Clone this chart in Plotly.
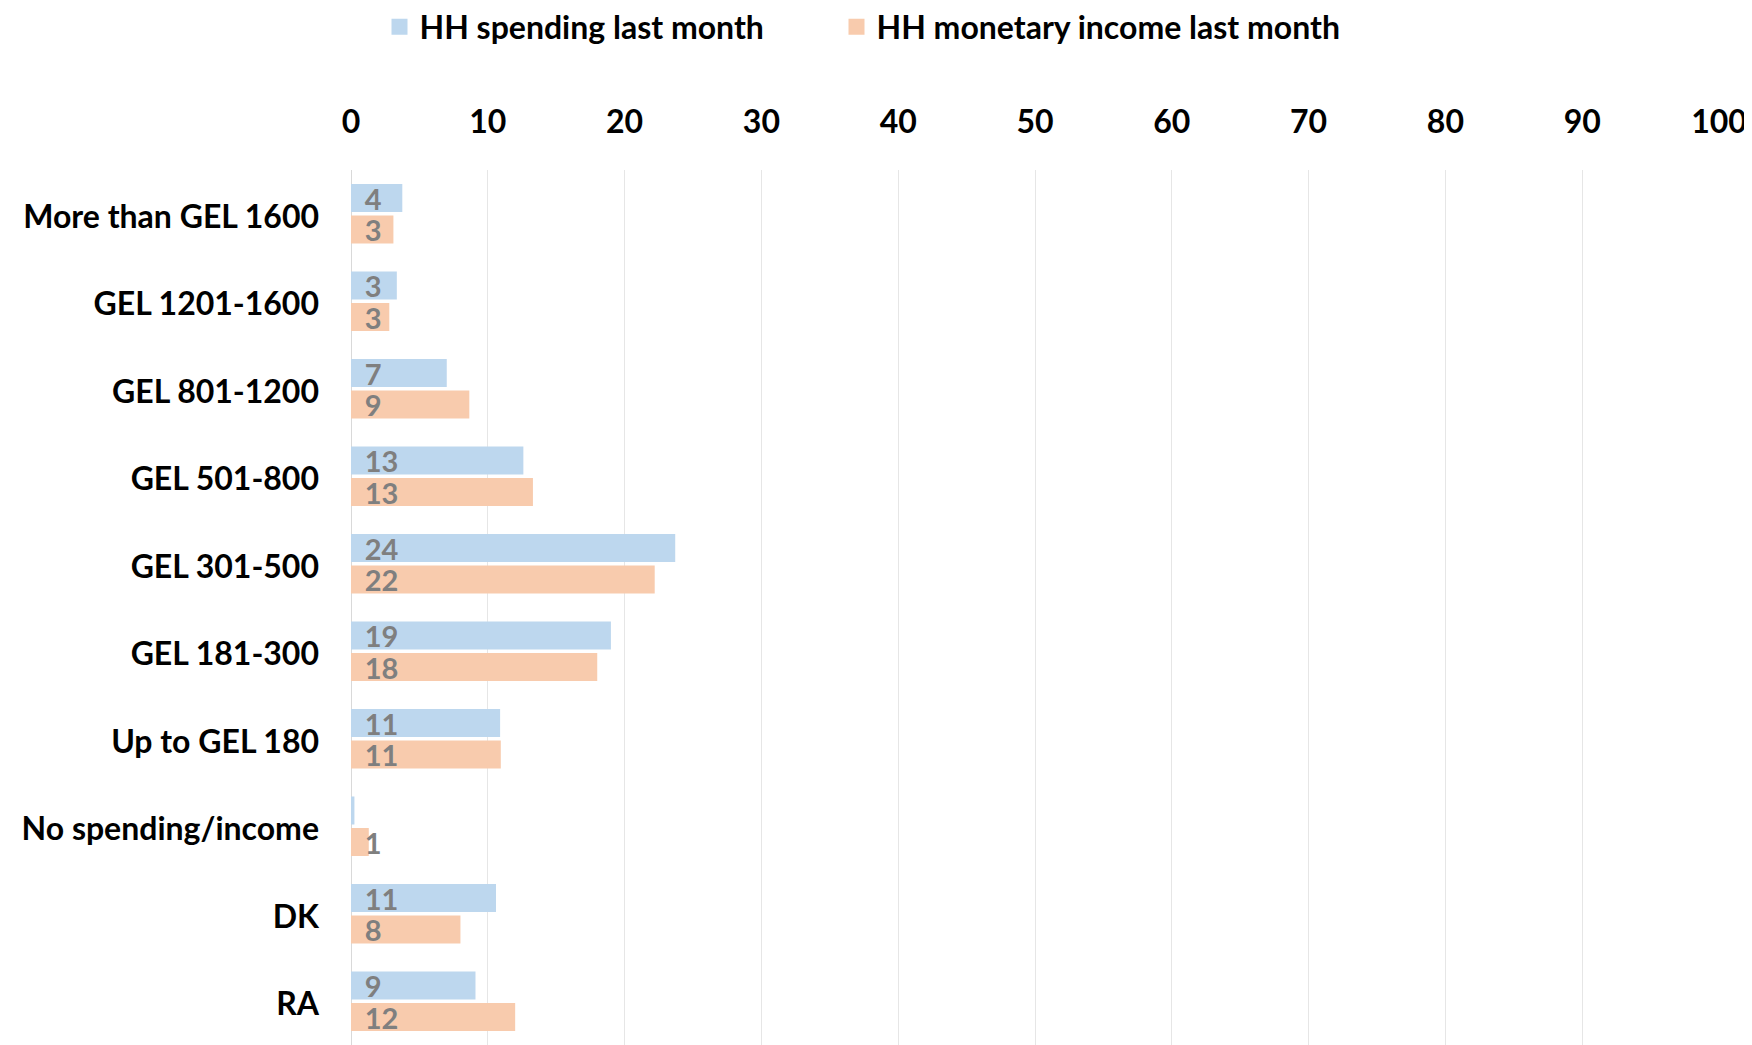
import plotly.graph_objects as go

categories = ["More than GEL 1600", "GEL 1201-1600", "GEL 801-1200", "GEL 501-800",
              "GEL 301-500", "GEL 181-300", "Up to GEL 180", "No spending/income", "DK", "RA"]
spending = [3.75, 3.35, 7.0, 12.6, 23.7, 19.0, 10.9, 0.25, 10.6, 9.1]
income = [3.1, 2.8, 8.65, 13.3, 22.2, 18.0, 10.95, 1.3, 8.0, 12.0]
x_ticks = [0, 10, 20, 30, 40, 50, 60, 70, 80, 90, 100]
series_names = ["HH spending last month", "HH monetary income last month"]

BLUE = "#bdd7ee"
ORANGE = "#f8cbad"
LABEL = "#7f7f7f"
FONT = "Lato"
PAD = "\u00a0\u2009"

W, H = 1744, 1037  # page body has an 8px margin


def labels(vals):
    return [PAD + f"{round(v):d}" if v >= 0.5 else "" for v in vals]


fig = go.Figure()
for name, vals, col, leg in [(series_names[0], spending, BLUE, "legend"),
                             (series_names[1], income, ORANGE, "legend2")]:
    fig.add_trace(go.Bar(
        y=categories, x=vals, name=name, orientation="h", showlegend=False,
        marker=dict(color=col, line=dict(width=0)),
        text=labels(vals), textposition="inside", insidetextanchor="start",
        constraintext="none", textangle=0,
        textfont=dict(family=FONT, size=29, color=LABEL, weight="bold"),
    ))
    # legend-only entry with a larger square swatch
    fig.add_trace(go.Scatter(
        x=[None], y=[None], mode="markers", name=name, legend=leg,
        marker=dict(symbol="square", size=19, color=col),
        hoverinfo="skip",
    ))

leg_common = dict(orientation="h", xref="container", yref="container",
                  xanchor="left", y=1 - 19 / H, yanchor="middle",
                  font=dict(family=FONT, size=32, color="black", weight="bold"),
                  itemwidth=30, bgcolor="rgba(0,0,0,0)")

fig.update_layout(
    width=W, height=H,
    margin=dict(l=343, r=33, t=162, b=0),
    paper_bgcolor="white", plot_bgcolor="white",
    barmode="group", bargap=0.28, bargroupgap=0.11,
    font=dict(family=FONT, size=32, color="black", weight="bold"),
    legend=dict(x=371.5 / W, **leg_common),
    legend2=dict(x=828.5 / W, **leg_common),
    xaxis=dict(side="top", range=[0, 100], tickvals=x_ticks,
               showgrid=True, gridcolor="#e6e6e6", gridwidth=1,
               zeroline=True, zerolinecolor="#d9d9d9", zerolinewidth=1,
               showline=False, ticks="", ticklabelstandoff=30,
               tickfont=dict(family=FONT, size=32, color="black", weight="bold"),
               fixedrange=True),
    yaxis=dict(autorange="reversed", showgrid=False, showline=False,
               ticks="", ticklabelstandoff=31, ticklabelshift=-3,
               tickfont=dict(family=FONT, size=32, color="black", weight="bold")),
)

fig.write_html("out.html")
